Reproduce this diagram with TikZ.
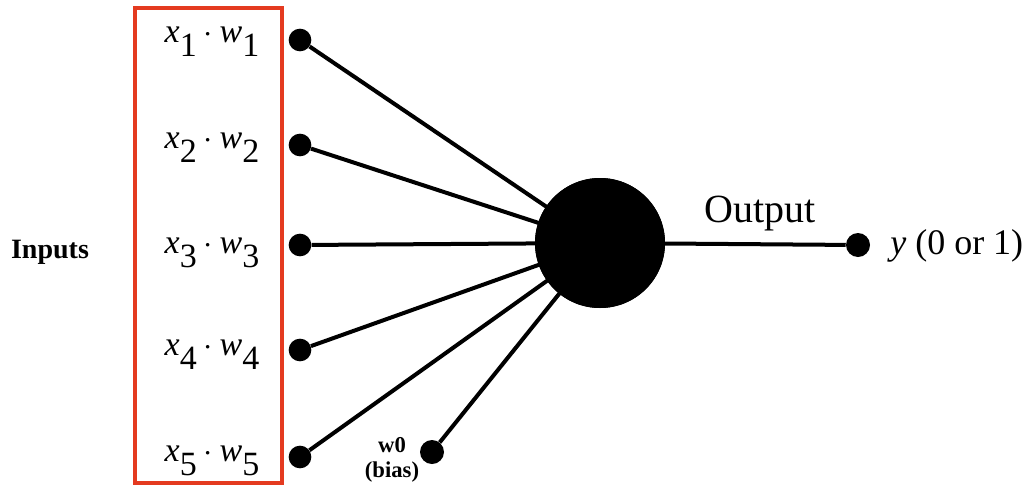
\documentclass[tikz,border=0pt]{standalone}
\usepackage{fontspec}
\setmainfont{Liberation Serif}
\definecolor{boxred}{RGB}{228,58,32}
\newcommand{\lowsub}[1]{\raisebox{-0.42em}{#1}}
\begin{document}
\begin{tikzpicture}[x=0.75pt,y=-0.75pt,
  dot/.style={circle,fill=black,inner sep=0pt,minimum size=17pt},
  link/.style={line width=3pt},
  wlabel/.style={anchor=base,inner sep=0pt,font=\fontsize{25.5}{25}\selectfont}]
\useasboundingbox (0,0) rectangle (1033,490);
% input box
\draw [line width=2.5pt, boxred] (135,8) rectangle (282,483);
\foreach \i/\y/\b in {1/40/42,2/145/148,3/245/253,4/350/355,5/457/461}{
\node [dot] (d\i) at (300,\y) {};
\node [wlabel] (l\i) at (212,\b) {\textit{x}\lowsub{\i}\hspace{0.2em}$\cdot$\hspace{0.2em}\textit{w}\lowsub{\i}};
}
\node [circle,fill=black,inner sep=0pt,minimum size=97.5pt] (neuron) at (600,243) {};
\node [dot,minimum size=18pt] (bias) at (432,452) {};
\node [dot,minimum size=18pt] (out) at (858,245) {};
\foreach \i in {1,...,5}{
\draw [link] (d\i) -- (neuron.center);
}
\draw [link] (bias) -- (neuron.center);
\draw [link] (neuron.center) -- (out);
\node [circle,fill=black,inner sep=0pt,minimum size=97.5pt] at (neuron) {};
% labels
\node [font=\bfseries\fontsize{21}{21}\selectfont] (inputs) at (50,252) {Inputs};
\node [font=\fontsize{30}{30}\selectfont] (outname) at (760,214) {Output};
\node [anchor=west,inner sep=0pt,font=\fontsize{27}{27}\selectfont] (yname) at (890,246) {\textit{y} (0 or 1)};
\node [align=center,font=\bfseries\fontsize{17}{19}\selectfont] (biasname) at (392,460) {w0\\(bias)};
\end{tikzpicture}
\end{document}
